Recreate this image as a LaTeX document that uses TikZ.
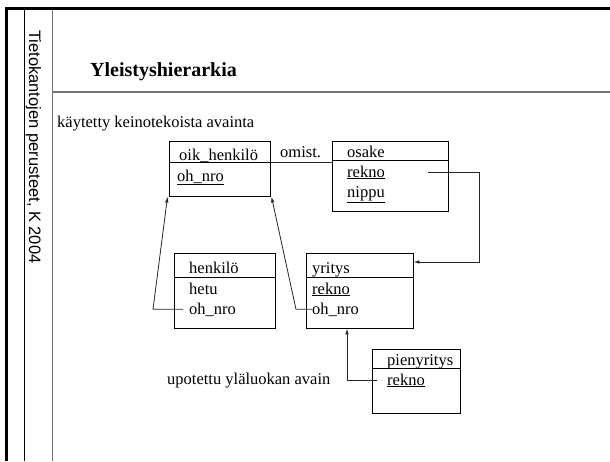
\documentclass[tikz,border=0pt]{standalone}
\usepackage{fontspec}
\setmainfont{Liberation Serif}
\newfontfamily\sidefont{Liberation Sans}
\usetikzlibrary{arrows.meta}
\begin{document}
\begin{tikzpicture}[x=1pt,y=-1pt,
  txt/.style={anchor=base west, inner sep=0pt, font=\fontsize{16.5}{20}\selectfont},
  ent/.style={draw=black, line width=0.9pt, inner sep=0pt},
  divider/.style={draw=black, line width=0.9pt},
  link/.style={draw=black!85, line width=0.8pt},
  arr/.style={link, -{Latex[length=6pt,width=3.5pt]}},
  heavy/.style={line width=3pt, black},
  rule/.style={line width=1.3pt, black!55}]
\useasboundingbox (0,0) rectangle (610,461);
\fill[white] (0,0) rectangle (610,461);

% slide frame
\draw[heavy] (5,8.5) -- (610,8.5);
\draw[heavy] (6.5,7) -- (6.5,461);
\draw[line width=1pt] (24.5,10) -- (24.5,461);
\draw[rule] (52.5,10) -- (52.5,461);
\draw[rule] (52.5,92) -- (610,92);

% side caption
\node[rotate=-90, anchor=base west, inner sep=0pt,
      font=\sidefont\fontsize{16.5}{20}\selectfont] (side) at (29,30)
      {Tietokantojen perusteet, K 2004};

% heading and notes
\node[anchor=base west, inner sep=0pt, font=\bfseries\fontsize{20}{24}\selectfont]
      (title) at (90,76) {Yleistyshierarkia};
\node[txt] (note1) at (57,127) {käytetty keinotekoista avainta};
\node[txt] (note2) at (167,384) {upotettu yläluokan avain};

% entity boxes
\node[ent, minimum width=101, minimum height=55] (oik)   at (219.5,168.5) {};
\node[ent, minimum width=116, minimum height=70] (osake) at (390,176) {};
\node[ent, minimum width=101, minimum height=75] (henk)  at (224.5,290.5) {};
\node[ent, minimum width=107, minimum height=75] (yrit)  at (359.5,290.5) {};
\node[ent, minimum width=88,  minimum height=64] (pien)  at (416,381) {};

% header dividers
\draw[divider] ([yshift=-22pt]oik.north west)   -- ([yshift=-22pt]oik.north east);
\draw[divider] ([yshift=-20pt]osake.north west) -- ([yshift=-20pt]osake.north east);
\draw[divider] ([yshift=-25pt]henk.north west)  -- ([yshift=-25pt]henk.north east);
\draw[divider] ([yshift=-25pt]yrit.north west)  -- ([yshift=-25pt]yrit.north east);
\draw[divider] ([yshift=-20pt]pien.north west)  -- ([yshift=-20pt]pien.north east);

% attributes
\node[txt] (ok1) at (179,160) {oik\_henkilö};
\node[txt] (ok2) at (177,181) {\underline{oh\_nro}};

\node[txt] (os1) at (347,157) {osake};
\node[txt] (os2) at (347,177) {\underline{rekno}};
\node[txt] (os3) at (347,197) {\underline{nippu}};

\node[txt] (hk1) at (189,273) {henkilö};
\node[txt] (hk2) at (189,294) {hetu};
\node[txt] (hk3) at (189,314) {oh\_nro};

\node[txt] (yr1) at (312,273) {yritys};
\node[txt] (yr2) at (312,294) {\underline{rekno}};
\node[txt] (yr3) at (312,314) {oh\_nro};

\node[txt] (pn1) at (387,365) {pienyritys};
\node[txt] (pn2) at (387,385) {\underline{rekno}};

\node[txt] (omist) at (280,157) {omist.};

% connector bends
\coordinate (odiv) at (0,162);
\coordinate (rs) at (428,172);
\coordinate (rb) at (479,262);
\coordinate (hb) at (153,310);
\coordinate (yb) at (296,310);
\coordinate (pb) at (347,380);

% relationships
\draw[link] (oik.east |- odiv) -- (osake.west |- odiv);
\draw[arr] (rs) -| (rb) -- (yrit.east |- rb);
\draw[arr] ([xshift=-6pt]hk3.west) -- (hb |- hk3.west) -- ([xshift=-1pt]oik.south west);
\draw[arr] (yr3.west) -- (yb |- yr3.west) -- ([xshift=1pt]oik.south east);
\draw[arr] ([xshift=-10pt]pn2.west) -- (pb |- pn2.west) -- (pb |- yrit.south);
\end{tikzpicture}
\end{document}
